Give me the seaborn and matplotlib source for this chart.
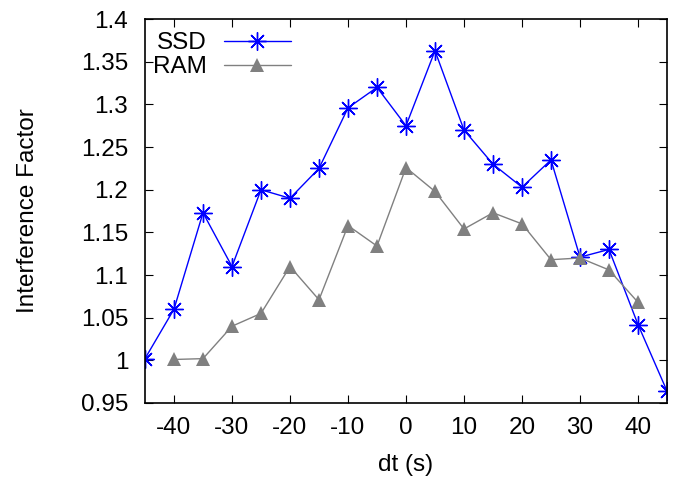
import numpy as np
import pandas as pd
import seaborn as sns
import matplotlib
matplotlib.use('Agg')
import matplotlib.pyplot as plt

# data
ssd_dt = [-45, -40, -35, -30, -25, -20, -15, -10, -5, 0, 5, 10, 15, 20, 25, 30, 35, 40, 45]
ssd_val = [1.002, 1.06, 1.173, 1.11, 1.2, 1.19, 1.225, 1.296, 1.32, 1.275, 1.363, 1.27,
           1.23, 1.203, 1.235, 1.121, 1.13, 1.042, 0.964]
ram_dt = [-40, -35, -30, -25, -20, -15, -10, -5, 0, 5, 10, 15, 20, 25, 30, 35, 40]
ram_val = [1.001, 1.002, 1.04, 1.055, 1.11, 1.071, 1.158, 1.134, 1.226, 1.198, 1.154,
           1.173, 1.16, 1.118, 1.12, 1.106, 1.068]

sns.set_style('ticks')
plt.rcParams['font.family'] = ['Liberation Sans', 'DejaVu Sans']
plt.rcParams['axes.unicode_minus'] = False
plt.rcParams['text.color'] = 'black'
plt.rcParams['axes.labelcolor'] = 'black'
plt.rcParams['xtick.color'] = 'black'
plt.rcParams['ytick.color'] = 'black'
plt.rcParams['axes.edgecolor'] = 'black'

fig = plt.figure(figsize=(6.82, 4.79), dpi=100)
ax = fig.add_axes([0.2126, 0.1587, 0.7654, 0.8013])

sns.lineplot(x=ssd_dt, y=ssd_val, color='#0000ff', marker=(8, 2, 0), markersize=13,
             markeredgecolor='#0000ff', markeredgewidth=1.0, linewidth=1, label='SSD', ax=ax)
sns.lineplot(x=ram_dt, y=ram_val, color='#808080', marker='^', markersize=9.5,
             markeredgewidth=0, linewidth=1, label='RAM', ax=ax)

ax.set_xlim(-45, 45)
ax.set_ylim(0.95, 1.4)
ax.set_xticks(np.arange(-40, 41, 10))
ax.set_yticks(np.arange(0.95, 1.401, 0.05))
ax.set_yticklabels(['0.95', '1', '1.05', '1.1', '1.15', '1.2', '1.25', '1.3', '1.35', '1.4'])
ax.tick_params(direction='in', top=True, right=True, labelsize=17.5, length=6)
ax.tick_params(axis='y', pad=12)
ax.tick_params(axis='x', pad=10)
for s in ax.spines.values():
    s.set_linewidth(1.2)
ax.set_xlabel('dt (s)', fontsize=17.5, labelpad=11)
ax.set_ylabel('Interference Factor', fontsize=17.5, labelpad=30)

h, l = ax.get_legend_handles_labels()
leg = ax.legend(h, l, loc='upper left', bbox_to_anchor=(0.015, 0.966), frameon=False,
                fontsize=17.5, markerfirst=False, handlelength=2.75, borderaxespad=0,
                handletextpad=0.7, labelspacing=0.08, borderpad=0)

fig.savefig('out.png', dpi=100)
